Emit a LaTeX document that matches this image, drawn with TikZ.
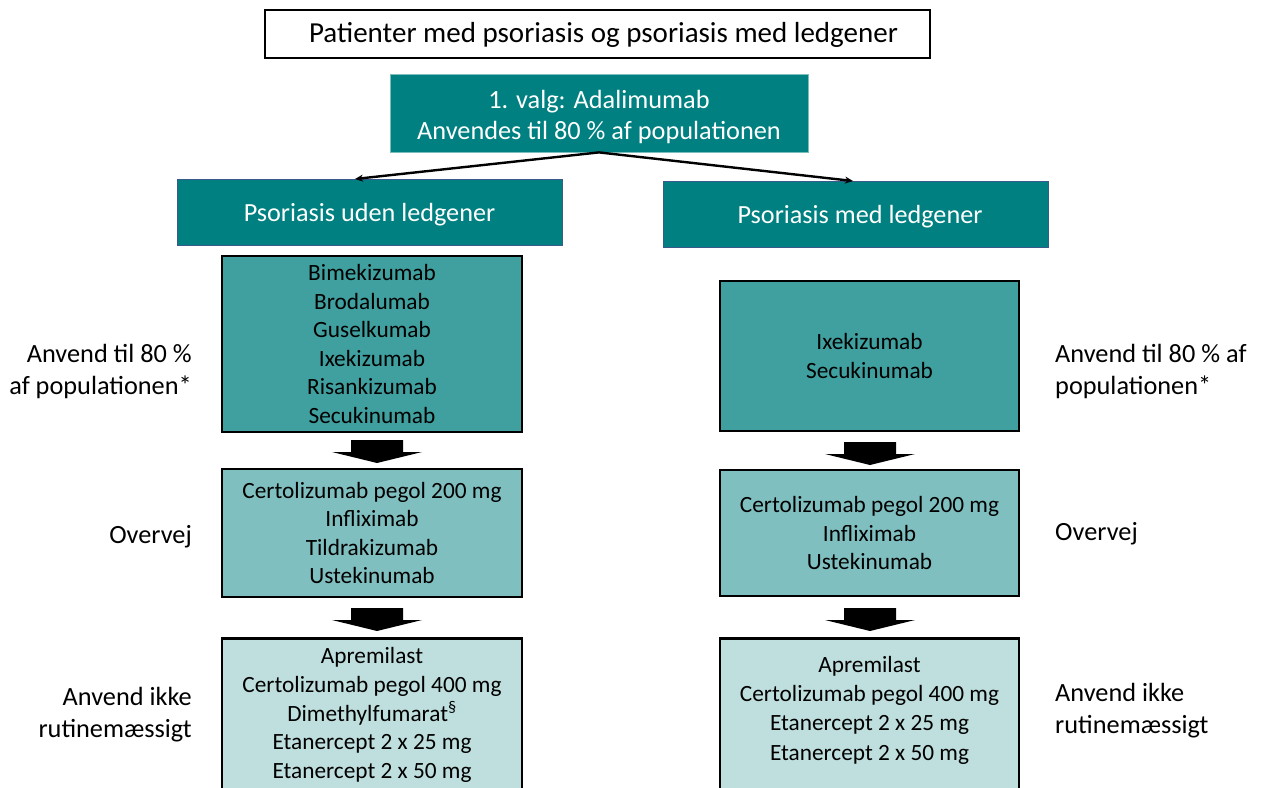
\documentclass[tikz,border=0pt]{standalone}
\usepackage{fontspec}
\setmainfont{Carlito}
\usetikzlibrary{arrows.meta}
\definecolor{tealA}{HTML}{008080}
\definecolor{tealB}{HTML}{40A09F}
\definecolor{tealC}{HTML}{80BFBF}
\definecolor{tealD}{HTML}{BFDFDF}
\definecolor{hdrborder}{HTML}{3A5A8C}
\tikzset{
  titlebox/.style={draw=black, line width=1.3pt, fill=white, inner sep=0pt},
  topbox/.style={draw=tealB!70!white, line width=0.8pt, fill=tealA, text=white, align=center, inner sep=0pt, font=\fontsize{26.3}{31}\selectfont},
  hdrbox/.style={draw=hdrborder, line width=1pt, fill=tealA, inner sep=0pt},
  hdrtext/.style={text=white, inner sep=0pt, font=\fontsize{26.2}{30}\selectfont},
  drugbox/.style={draw=black, line width=2.6pt, align=center, inner sep=0pt, font=\fontsize{23.3}{28.6}\selectfont},
  lbl/.style={align=right, anchor=east, inner sep=0pt, font=\fontsize{26.3}{32}\selectfont},
  rlbl/.style={align=left, anchor=west, inner sep=0pt, font=\fontsize{26.3}{32}\selectfont},
  thinarrow/.style={-{Stealth[length=8pt,width=7pt]}, line width=2.4pt},
  blockarrow/.style={fill=black}
}
\newcommand{\blockarr}[2]{%
  \fill[blockarrow] (#1-26,#2) -- (#1+26,#2) -- (#1+26,#2+12) -- (#1+45,#2+12) -- (#1,#2+23) -- (#1-45,#2+12) -- (#1-26,#2+12) -- cycle;}
\begin{document}
\begin{tikzpicture}[x=1pt,y=-1pt]
\useasboundingbox (0,0) rectangle (1263,787);
\clip (0,0) rectangle (1263,787);
\fill[white] (0,0) rectangle (1263,787);

% title
\node[titlebox, minimum width=665, minimum height=48] (title) at (597.5,34) {};
\node[inner sep=0pt, font=\fontsize{29}{34}\selectfont] (titletext) at (603.5,35) {Patienter med psoriasis og psoriasis med ledgener};

% top box
\node[topbox, minimum width=418, minimum height=78] (top) at (599,113) {};
\node[align=center, text=white, inner sep=0pt, font=\fontsize{26.3}{31}\selectfont] (toptext) at (599,117) {1. valg: Adalimumab\\Anvendes til 80 \% af populationen};

% headers
\node[hdrbox, minimum width=385, minimum height=66] (hL) at (369.5,212) {};
\node[hdrtext] (hLt) at (369.5,215) {Psoriasis uden ledgener};
\node[hdrbox, minimum width=385, minimum height=66] (hR) at (855.5,214) {};
\node[hdrtext] (hRt) at (860,217) {Psoriasis med ledgener};

\coordinate (tL) at (355,179);
\coordinate (tR) at (853,181);
\draw[thinarrow] (top.south) -- (tL);
\draw[thinarrow] (top.south) -- (tR);

% left column
\node[drugbox, fill=tealB, minimum width=300, minimum height=176] (L1) at (372,344) {Bimekizumab\\Brodalumab\\Guselkumab\\Ixekizumab\\Risankizumab\\Secukinumab};
\node[drugbox, fill=tealC, minimum width=300, minimum height=128] (L2) at (372,533) {Certolizumab pegol 200 mg\\Infliximab\\Tildrakizumab\\Ustekinumab};
\node[drugbox, fill=tealD, minimum width=300, minimum height=160, anchor=north] (L3) at (372,637) {};
\node[align=center, inner sep=0pt, font=\fontsize{23.3}{28.6}\selectfont] (L3t) at (372,715) {Apremilast\\Certolizumab pegol 400 mg\\Dimethylfumarat\textsuperscript{§}\\Etanercept 2 x 25 mg\\Etanercept 2 x 50 mg};

\blockarr{377}{440}
\blockarr{377}{608}

% right column
\node[drugbox, fill=tealB, minimum width=299, minimum height=150] (R1) at (869.5,356) {Ixekizumab\\Secukinumab};
\node[drugbox, fill=tealC, minimum width=299, minimum height=126] (R2) at (869.5,533) {Certolizumab pegol 200 mg\\Infliximab\\Ustekinumab};
\node[drugbox, fill=tealD, minimum width=299, minimum height=160, anchor=north] (R3) at (869.5,637) {};
\node[align=center, inner sep=0pt, font=\fontsize{23.3}{29.3}\selectfont] (R3t) at (869.5,710) {Apremilast\\Certolizumab pegol 400 mg\\Etanercept 2 x 25 mg\\Etanercept 2 x 50 mg};

\blockarr{870}{442}
\blockarr{870}{608}

% side labels
\node[lbl] (la) at (192,371) {Anvend til 80 \%\\af populationen*};
\node[lbl] (lb) at (192,537) {Overvej};
\node[lbl] (lc) at (192,715) {Anvend ikke\\rutinemæssigt};
\node[rlbl] (ra) at (1055,371) {Anvend til 80 \% af\\populationen*};
\node[rlbl] (rb) at (1055,534) {Overvej};
\node[rlbl] (rc) at (1055,711) {Anvend ikke\\rutinemæssigt};
\end{tikzpicture}
\end{document}
